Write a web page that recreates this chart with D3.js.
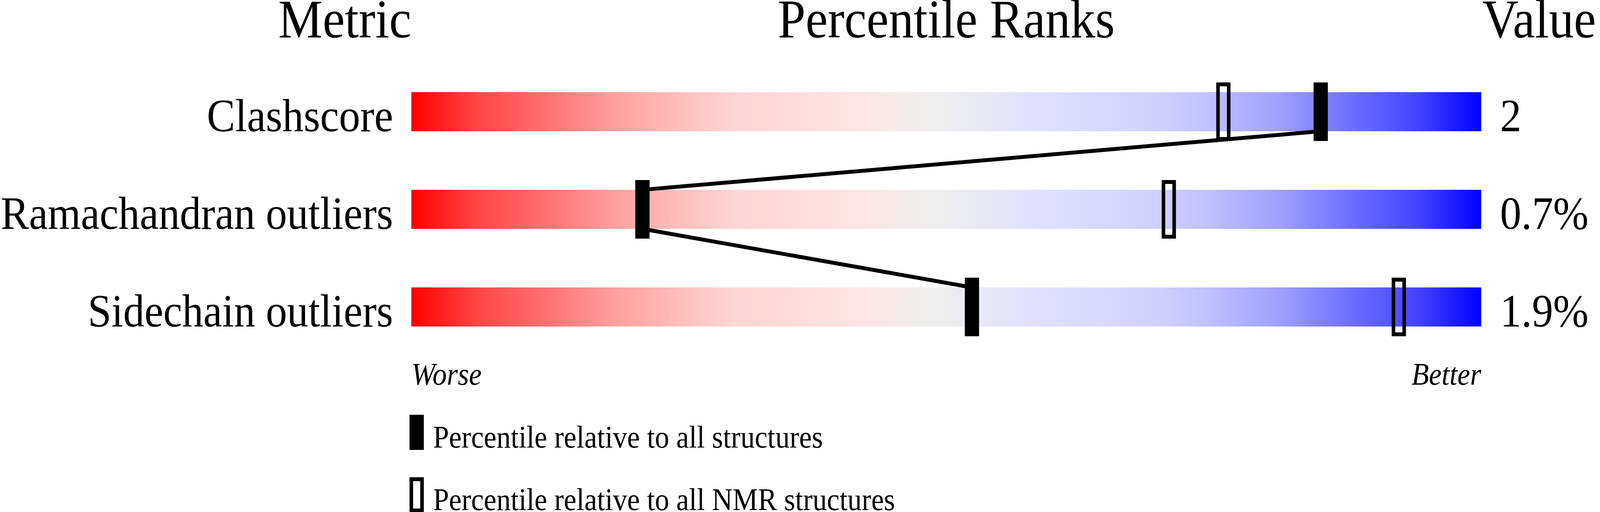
<!DOCTYPE html>
<html>
<head>
<meta charset="utf-8">
<script src="https://d3js.org/d3.v7.min.js"></script>
<style>
  html, body { margin: 0; padding: 0; background: #fff; overflow: hidden; }
  svg { display: block; width: 100vw; height: 100vh; }
  text { font-family: "Liberation Serif", "Times New Roman", serif; fill: #000; }
</style>
</head>
<body>
<div id="chart"></div>
<script>
// Validation slider data
const metrics = ['Clashscore', 'Ramachandran outliers', 'Sidechain outliers'];
const valueLabels = ['2', '0.7%', '1.9%'];
const pctAll = [85, 21.6, 52.4];   // percentile relative to all structures
const pctNmr = [75.9, 70.8, 92.3]; // percentile relative to all NMR structures
const columnTitles = ['Metric', 'Percentile Ranks', 'Value'];
const endLabels = ['Worse', 'Better'];
const legendLabels = ['Percentile relative to all structures', 'Percentile relative to all NMR structures'];

// red -> grey -> blue ramp of the slider
const rampStops = [
    [0, 'rgb(255,0,0)'], [0.06, 'rgb(255,68,68)'], [0.125, 'rgb(255,112,112)'],
    [0.19, 'rgb(255,160,160)'], [0.26, 'rgb(255,194,194)'], [0.30, 'rgb(255,212,212)'],
    [0.40, 'rgb(255,226,226)'], [0.49, 'rgb(238,238,238)'], [0.60, 'rgb(222,222,255)'],
    [0.70, 'rgb(208,208,255)'], [0.74, 'rgb(194,194,255)'], [0.81, 'rgb(160,160,255)'],
    [0.875, 'rgb(112,112,255)'], [0.94, 'rgb(68,68,255)'], [1, 'rgb(0,0,255)']
];

const width = 4485, height = 1311;

// drawn in a fixed 4485x1311 coordinate space, stretched to the window
const svg = d3.select('#chart').append('svg')
    .attr('viewBox', `0 0 ${width} ${height}`)
    .attr('preserveAspectRatio', 'none');

const x = d3.scaleLinear().domain([0, 100]).range([1153, 4152]);
const y = d3.scaleBand().domain(metrics).range([236, 836]).paddingInner(0.6).paddingOuter(0);
const bw = y.bandwidth();
const markW = 40, markOver = 25;

const grad = svg.append('defs').append('linearGradient')
    .attr('id', 'ramp')
    .attr('x1', '0%').attr('x2', '100%').attr('y1', '0%').attr('y2', '0%');
grad.selectAll('stop')
    .data(rampStops)
    .join('stop')
    .attr('offset', d => d[0])
    .attr('stop-color', d => d[1]);

// column titles
const titleY = 96;
svg.append('text').attr('x', x(0)).attr('y', titleY)
    .attr('text-anchor', 'end').attr('font-size', 140).text(columnTitles[0]);
svg.append('text').attr('x', (x(0) + x(100)) / 2).attr('y', titleY)
    .attr('text-anchor', 'middle').attr('font-size', 140).text(columnTitles[1]);
svg.append('text').attr('x', x(100) + 3).attr('y', titleY)
    .attr('text-anchor', 'start').attr('font-size', 140).text(columnTitles[2]);

// gradient bars
svg.append('g')
    .selectAll('rect')
    .data(metrics)
    .join('rect')
    .attr('x', x(0))
    .attr('y', d => y(d))
    .attr('width', x(100) - x(0))
    .attr('height', bw)
    .attr('fill', 'url(#ramp)');

// metric names and values
svg.append('g')
    .selectAll('text')
    .data(metrics)
    .join('text')
    .attr('x', x(0) - 51)
    .attr('y', d => y(d) + bw)
    .attr('text-anchor', 'end')
    .attr('font-size', 119)
    .text(d => d);

svg.append('g')
    .selectAll('text')
    .data(valueLabels)
    .join('text')
    .attr('x', x(100) + 53)
    .attr('y', (d, i) => y(metrics[i]) + bw)
    .attr('font-size', 119)
    .text(d => d);

// hollow markers (NMR)
svg.append('g')
    .selectAll('rect')
    .data(pctNmr)
    .join('rect')
    .attr('x', d => x(d) - markW / 2 + 5)
    .attr('y', (d, i) => y(metrics[i]) - markOver + 5)
    .attr('width', markW - 10)
    .attr('height', bw + 2 * markOver - 10)
    .attr('fill', 'none')
    .attr('stroke', '#000')
    .attr('stroke-width', 10);

// line joining the all-structure markers
const pts = [];
pctAll.forEach((p, i) => {
    if (i > 0) pts.push([x(p), y(metrics[i])]);
    if (i < pctAll.length - 1) pts.push([x(p), y(metrics[i]) + bw]);
});
svg.append('path')
    .attr('d', d3.line()(pts))
    .attr('fill', 'none')
    .attr('stroke', '#000')
    .attr('stroke-width', 10);

// filled markers (all structures)
svg.append('g')
    .selectAll('rect')
    .data(pctAll)
    .join('rect')
    .attr('x', d => x(d) - markW / 2)
    .attr('y', (d, i) => y(metrics[i]) - markOver)
    .attr('width', markW)
    .attr('height', bw + 2 * markOver)
    .attr('fill', '#000');

// worse / better
svg.append('text').attr('x', x(0)).attr('y', 985)
    .attr('font-size', 80).attr('font-style', 'italic').text(endLabels[0]);
svg.append('text').attr('x', x(100)).attr('y', 985)
    .attr('text-anchor', 'end')
    .attr('font-size', 80).attr('font-style', 'italic').text(endLabels[1]);

// legend
const legend = svg.append('g')
    .selectAll('g')
    .data(legendLabels)
    .join('g')
    .attr('transform', (d, i) => `translate(1148, ${1062 + i * 160})`);

legend.append('rect')
    .attr('x', (d, i) => i ? 5 : 0)
    .attr('y', (d, i) => i ? 5 : 0)
    .attr('width', (d, i) => i ? 30 : 40)
    .attr('height', (d, i) => i ? 80 : 90)
    .attr('fill', (d, i) => i ? 'none' : '#000')
    .attr('stroke', (d, i) => i ? '#000' : 'none')
    .attr('stroke-width', 10);

legend.append('text')
    .attr('x', 66)
    .attr('y', 84)
    .attr('font-size', 80)
    .text(d => d);
</script>
</body>
</html>
